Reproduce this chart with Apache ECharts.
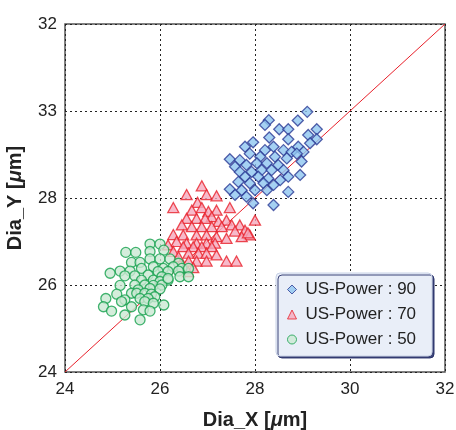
<!DOCTYPE html>
<html><head><meta charset="utf-8">
<script src="https://cdn.jsdelivr.net/npm/echarts@6/dist/echarts.min.js"></script>
<style>html,body{margin:0;padding:0;background:#fff}#c{width:456px;height:430px}</style>
</head><body><div id="c"></div>
<script>
const xTickLabels = ['24','26','28','30','32'];
const yTickLabels = ['24','26','28','33','32'];
const seriesNames = ['US-Power : 90','US-Power : 70','US-Power : 50'];
const power90 = [
[29.10,29.98],[28.90,29.78],[28.29,29.79],[28.21,29.68],[28.51,29.58],[28.70,29.58],[29.30,29.58],[29.12,29.45],
[28.30,29.39],[28.70,29.35],[27.96,29.28],[29.30,29.35],[28.39,29.18],[28.21,29.10],[27.79,29.18],[28.91,29.18],
[29.16,29.26],[28.60,29.10],[28.77,29.06],[29.02,29.06],[27.89,29.02],[27.47,28.89],[27.68,28.87],[28.11,28.95],
[28.42,28.95],[28.67,28.91],[28.88,29.02],[28.98,28.84],[27.58,28.72],[27.82,28.76],[28.04,28.80],[28.25,28.80],
[28.49,28.76],[27.68,28.60],[27.93,28.60],[28.14,28.64],[28.35,28.64],[28.60,28.64],[28.95,28.53],[27.79,28.49],
[28.07,28.49],[28.28,28.45],[28.70,28.49],[28.53,28.41],[27.65,28.37],[27.89,28.34],[28.18,28.34],[28.39,28.30],
[27.47,28.20],[27.72,28.18],[28.00,28.18],[28.25,28.18],[28.70,28.14],[27.58,28.07],[27.82,28.03],[27.96,27.88],
[28.39,27.84]
];
const power70 = [
[26.88,28.28],[26.56,28.08],[26.98,28.08],[27.19,28.05],[26.79,27.90],[26.28,27.78],[27.47,27.78],[26.88,27.78],
[26.67,27.72],[27.02,27.69],[27.19,27.72],[26.56,27.53],[26.77,27.53],[27.09,27.57],[26.95,27.53],[27.40,27.49],
[27.23,27.46],[26.46,27.38],[26.67,27.34],[26.88,27.34],[27.09,27.34],[27.51,27.38],[27.68,27.38],[27.30,27.34],
[27.79,27.26],[27.58,27.24],[26.28,27.16],[26.49,27.15],[26.77,27.15],[26.98,27.15],[27.19,27.11],[27.89,27.15],
[27.72,27.11],[27.40,27.07],[26.35,27.00],[26.56,26.96],[26.77,26.96],[26.98,26.96],[27.16,26.96],[26.17,26.92],
[26.49,26.88],[26.70,26.88],[26.88,26.88],[27.09,26.88],[26.28,26.77],[26.60,26.73],[26.81,26.73],[26.98,26.73],
[27.19,26.69],[26.39,26.65],[26.60,26.55],[26.77,26.55],[26.98,26.55],[27.40,26.55],[27.61,26.55],[26.70,26.40],
[28.00,27.49],[27.85,27.20],[26.59,26.31],[26.42,26.46]
];
const power50 = [
[25.79,26.94],[26.00,26.94],[25.79,26.77],[26.08,26.80],[25.28,26.75],[25.49,26.75],[25.79,26.60],[26.00,26.60],
[26.21,26.60],[25.40,26.52],[25.58,26.52],[26.39,26.50],[25.61,26.38],[25.86,26.42],[26.07,26.38],[26.28,26.42],
[26.46,26.38],[26.60,26.38],[25.16,26.32],[24.95,26.27],[25.37,26.32],[25.96,26.31],[26.17,26.31],[26.39,26.32],
[25.26,26.21],[25.47,26.21],[25.75,26.23],[26.04,26.19],[26.42,26.19],[26.60,26.19],[25.61,26.11],[25.86,26.11],
[26.00,26.08],[26.17,26.11],[25.16,25.99],[25.47,26.00],[25.68,26.00],[25.86,25.99],[26.04,26.00],[25.54,25.89],
[25.79,25.92],[26.00,25.91],[25.09,25.79],[25.40,25.81],[25.51,25.81],[25.68,25.81],[25.82,25.79],[25.89,25.73],
[25.58,25.69],[25.75,25.69],[24.86,25.69],[25.26,25.66],[25.19,25.62],[25.68,25.62],[25.86,25.58],[24.81,25.50],
[25.40,25.50],[26.08,25.54],[24.98,25.40],[25.65,25.43],[25.79,25.40],[25.26,25.31],[25.58,25.20],[26.17,26.15]
];
const diagonal = [[24,24],[32,32]];

const font = 'Liberation Sans, Arial, Helvetica, sans-serif';
const chart = echarts.init(document.getElementById('c'));
const splitStyle = {show:true, lineStyle:{color:'#222', type:[2,3], width:1}};
const nameRich = {
  b:{fontFamily:font, fontWeight:'bold', fontSize:20, color:'#222'},
  i:{fontFamily:font, fontWeight:'bold', fontStyle:'italic', fontSize:20, color:'#222'}
};
chart.setOption({
  animation:false,
  grid:{left:65, right:11, top:24, bottom:58, containLabel:false, outerBoundsMode:'none',
    show:true, borderColor:'#555', borderWidth:1.5, backgroundColor:'transparent'},
  xAxis:{type:'value', min:24, max:32, interval:2,
    name:'{b|Dia_X [}{i|μ}{b|m]}', nameLocation:'middle', nameGap:38,
    nameTextStyle:{rich:nameRich},
    axisLine:{show:false}, axisTick:{show:false},
    axisLabel:{fontFamily:font, fontSize:17, color:'#222', margin:9,
      formatter:(v)=>xTickLabels[Math.round((v-24)/2)]},
    splitLine:splitStyle},
  yAxis:{type:'value', min:24, max:32, interval:2,
    name:'{b|Dia_Y [}{i|μ}{b|m]}', nameLocation:'middle', nameGap:40,
    nameTextStyle:{rich:nameRich},
    axisLine:{show:false}, axisTick:{show:false},
    axisLabel:{fontFamily:font, fontSize:17, color:'#222', margin:8,
      formatter:(v)=>yTickLabels[Math.round((v-24)/2)]},
    splitLine:splitStyle},
  legend:{left:276, top:273, orient:'vertical', itemGap:8,
    padding:[8,16,8,11], backgroundColor:'#e9eef8', borderColor:'#c9d2e6', borderWidth:1, borderRadius:4,
    shadowColor:'rgba(30,40,100,0.85)', shadowBlur:0, shadowOffsetX:2, shadowOffsetY:2,
    itemWidth:9, itemHeight:9, itemStyle:{borderWidth:1},
    textStyle:{fontFamily:font, fontSize:17, lineHeight:17, color:'#222', padding:[0,0,0,4]},
    data:seriesNames},
  series:[
    {type:'line', data:diagonal, symbol:'none', lineStyle:{color:'#e8202a', width:1}, z:1, silent:true},
    {name:seriesNames[0], type:'scatter', data:power90, symbol:'diamond', symbolSize:11,
      itemStyle:{color:'#8ec6f0', borderColor:'#2b3a95', borderWidth:1.3}, z:3},
    {name:seriesNames[1], type:'scatter', data:power70, symbol:'triangle', symbolSize:[11,10],
      itemStyle:{color:'#f5a9bd', borderColor:'#e8202a', borderWidth:1.3}, z:3},
    {name:seriesNames[2], type:'scatter', data:power50, symbol:'circle', symbolSize:10,
      itemStyle:{color:'#cbe9d3', borderColor:'#14a04c', borderWidth:1.3}, z:3}
  ]
});
</script></body></html>
